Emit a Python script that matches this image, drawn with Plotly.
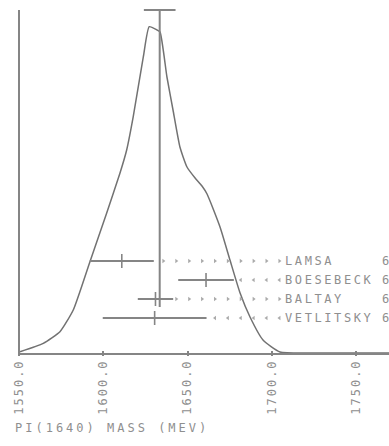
import numpy as np
import plotly.graph_objects as go

# Measurements of the PI(1640) mass (MeV)
experiments = ["LAMSA", "BOESEBECK", "BALTAY", "VETLITSKY"]
mass = [1611.0, 1661.0, 1631.0, 1630.5]
mass_err = [19.0, 16.5, 10.5, 30.8]
year_col = ["6", "6", "6", "6"]
leader_dir = ["right", "left", "right", "left"]

# Weighted average and its (scaled) error
avg_mass = 1633.5
avg_err = 9.4

# Ideogram curve, sampled along the mass axis (arbitrary height units)
curve_mass = [1550.6, 1564.4, 1574.3, 1582.2, 1592.1, 1602.0, 1609.9, 1613.9,
              1617.8, 1623.8, 1627.3, 1631.9, 1633.7, 1637.8, 1641.4, 1645.5,
              1649.7, 1654.5, 1658.6, 1661.6, 1669.3, 1675.2, 1681.2, 1687.1,
              1694.8, 1704.9, 1724.5, 1769.6]
curve_height = [2.3, 10.7, 22.3, 44, 92.3, 140.7, 180.7, 204,
                237.3, 297.3, 327.3, 324, 322, 277, 244, 207,
                187, 176, 168, 160, 127, 94, 61, 37,
                14, 2, 1, 1]

tick_vals = [1550, 1600, 1650, 1700, 1750]
tick_text = ["1550.0", "1600.0", "1650.0", "1700.0", "1750.0"]
axis_title = "PI(1640) MASS (MEV)"

# ---- layout geometry ----
W, H = 389, 446
ML, MR, MT, MB = 10, 0, 0, 90
PX_PER_MEV = 1.685
X0 = 1550 - (19 - ML) / PX_PER_MEV
X1 = 1550 + (W - 19) / PX_PER_MEV
Y_RANGE = [-2, 354]
plot_w = W - ML - MR
plot_h = H - MT - MB

ROW_TOP = 93
ROW_STEP = 19
row_y = [ROW_TOP - i * ROW_STEP for i in range(len(experiments))]
AVG_TOP = 344
AVG_BOTTOM = 47
LABEL_X = 1706.7
YEAR_X = 1764.2
LEADER_START, LEADER_STEP, LEADER_END = 1635.7, 7.65, 1706.0

LINE = "#858585"
CURVE = "#727272"
TEXT = "#8f8f8f"
DOT = "#aaaaaa"
FONT = "DejaVu Sans Mono"


def spaced(s, px):
    return f'<span style="letter-spacing:{px}px">{s}</span>'


fig = go.Figure()

# Ideogram
fig.add_trace(go.Scatter(
    x=curve_mass, y=curve_height, mode="lines",
    line=dict(color=CURVE, width=1.5, shape="spline", smoothing=0.5),
    hoverinfo="skip", showlegend=False))

# Leader marks from each error bar towards its label
grid = np.arange(LEADER_START, LEADER_END, LEADER_STEP)
for m, e, y, d in zip(mass, mass_err, row_y, leader_dir):
    gx = [g for g in grid if g > m + e + 1.5]
    fig.add_trace(go.Scatter(
        x=gx, y=[y] * len(gx), mode="markers",
        marker=dict(symbol="triangle-" + d, size=4, color=DOT),
        hoverinfo="skip", showlegend=False))

# Measurements with horizontal error bars
fig.add_trace(go.Scatter(
    x=mass, y=row_y, mode="markers",
    marker=dict(symbol="line-ns", size=10, line=dict(color=LINE, width=1.6)),
    error_x=dict(type="data", array=mass_err, width=0, thickness=2, color=LINE),
    hoverinfo="skip", showlegend=False))

# Weighted average: vertical line with error bar on top
fig.add_trace(go.Scatter(
    x=[avg_mass, avg_mass], y=[AVG_BOTTOM, AVG_TOP], mode="lines",
    line=dict(color=LINE, width=2), hoverinfo="skip", showlegend=False))
fig.add_trace(go.Scatter(
    x=[avg_mass - avg_err, avg_mass + avg_err], y=[AVG_TOP, AVG_TOP], mode="lines",
    line=dict(color=LINE, width=2), hoverinfo="skip", showlegend=False))

# Frame lines: vertical axis and baseline
fig.add_shape(type="line", x0=1550, x1=1550, y0=0, y1=AVG_TOP,
              line=dict(color=LINE, width=2))
fig.add_shape(type="line", x0=1550, x1=X1, y0=0, y1=0,
              line=dict(color=LINE, width=2))

# Experiment labels
for name, yr, y in zip(experiments, year_col, row_y):
    fig.add_annotation(x=LABEL_X, y=y, xref="x", yref="y", text=spaced(name, 2.6),
                       showarrow=False, xanchor="left", yanchor="middle",
                       font=dict(family=FONT, size=12, color=TEXT))
    fig.add_annotation(x=YEAR_X, y=y, xref="x", yref="y", text=yr,
                       showarrow=False, xanchor="left", yanchor="middle",
                       font=dict(family=FONT, size=12, color=TEXT))

# Axis title
fig.add_annotation(x=(13 - ML) / plot_w, y=(plot_h - 428) / plot_h,
                   xref="paper", yref="paper", text=spaced(axis_title, 3),
                   showarrow=False, xanchor="left", yanchor="middle",
                   font=dict(family=FONT, size=12, color=TEXT))

fig.update_layout(
    width=W, height=H,
    margin=dict(l=ML, r=MR, t=MT, b=MB, pad=0),
    paper_bgcolor="white", plot_bgcolor="white",
    xaxis=dict(range=[X0, X1], showgrid=False, zeroline=False, showline=False,
               tickvals=tick_vals, ticktext=[spaced(t, 2) for t in tick_text],
               tickangle=-90, ticks="inside", ticklen=5, tickwidth=1.5,
               tickcolor=LINE, tickfont=dict(family=FONT, size=12, color=TEXT)),
    yaxis=dict(range=Y_RANGE, showgrid=False, zeroline=False, showline=False,
               showticklabels=False, ticks=""),
)

fig.write_html("out.html")
